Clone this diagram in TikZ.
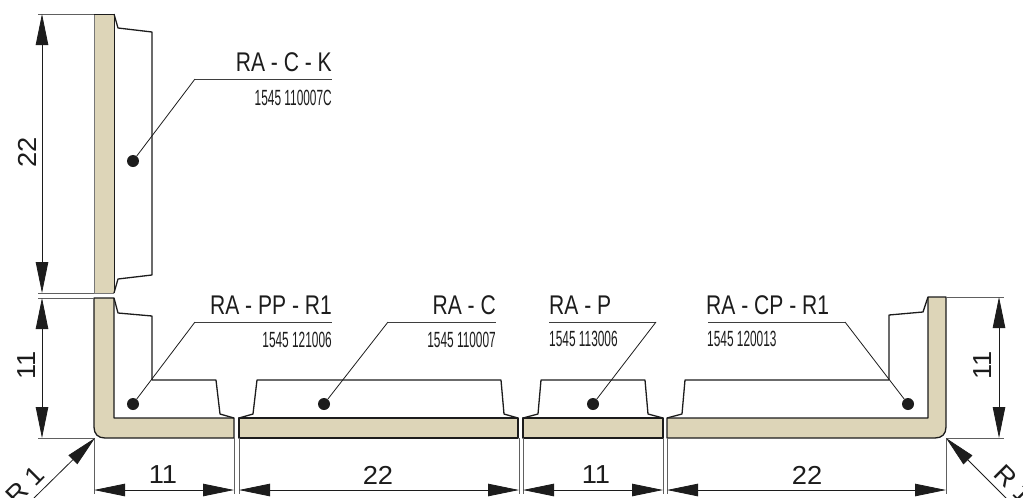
\documentclass[tikz,border=0pt]{standalone}
\usepackage{fontspec}
\usepackage{graphicx}
\setmainfont{Liberation Sans}
\usetikzlibrary{arrows.meta}
\definecolor{plate}{HTML}{DDD5B8}
\definecolor{ink}{HTML}{1C1C1C}
\newcommand{\biglabel}[1]{\fontsize{27}{27}\selectfont\scalebox{0.78}[1]{#1}}
\newcommand{\codelabel}[1]{\fontsize{22}{22}\selectfont\scalebox{0.54}[1]{#1}}
\newcommand{\dimtext}[1]{\fontsize{26}{26}\selectfont\scalebox{1.05}[1]{#1}}
\tikzset{
  x=1pt,y=-1pt,
  plateshape/.style={fill=plate,draw=ink,line width=1.3pt,line join=round},
  profile/.style={draw=ink,line width=1.3pt,line join=round},
  extline/.style={draw=ink!70,line width=0.8pt},
  dimline/.style={draw=ink,line width=0.8pt,{Triangle[length=31pt,width=12.5pt]}-{Triangle[length=31pt,width=12.5pt]}},
  radline/.style={draw=ink,line width=0.8pt,-{Triangle[length=31pt,width=12.5pt]}},
  leader/.style={draw=ink,line width=0.8pt},
  shelf/.style={draw=ink!85,line width=0.9pt},
  markdot/.style={circle,fill=ink,draw=none,inner sep=0pt,minimum size=12pt},
  big/.style={inner sep=0pt,text=ink,anchor=base east},
  bigw/.style={inner sep=0pt,text=ink,anchor=base west},
  dimlabel/.style={inner sep=0pt,text=ink,anchor=center},
}
\begin{document}
\begin{tikzpicture}
\useasboundingbox (0,0) rectangle (1023,498);
% plates
\fill[plate] (94,14) rectangle (114,293);
\draw[ink!60,line width=0.8pt] (94,14) -- (94,293) -- (114,293);
\draw[profile,line width=1pt] (94,14) -- (114,14) -- (114,293);
\draw[profile] (114,14) -- (118,28) -- (152,32) -- (152,275) -- (118,279) -- (114,293);
\draw[plateshape] (94,298) -- (114,298) -- (114,418) -- (234,418) -- (234,438) -- (105,438)
  .. controls (98,438) and (94,434) .. (94,427) -- cycle;
\draw[profile] (114,298) -- (118,313) -- (152,316) -- (152,380) -- (216,380) -- (220,414) -- (234,418);
\draw[plateshape] (239,418) rectangle (518,438);
\draw[profile] (239,418) -- (253,414) -- (257,380) -- (501,380) -- (504,414) -- (518,418);
\draw[plateshape] (523,418) rectangle (663,438);
\draw[profile] (523,418) -- (538,414) -- (541,380) -- (645,380) -- (648,414) -- (663,418);
\draw[plateshape] (667,418) -- (928,418) -- (928,297) -- (946,297) -- (946,427)
  .. controls (946,434) and (942,438) .. (935,438) -- (667,438) -- cycle;
\draw[profile] (667,418) -- (682,414) -- (685,380) -- (889,380) -- (889,315) -- (923,312) -- (928,297);
% extension lines
\draw[extline] (38,14) -- (94,14);
\draw[extline] (38,293) -- (94,293);
\draw[extline] (38,298) -- (94,298);
\draw[extline] (38,438) -- (94,438);
\draw[extline] (946,297) -- (1004,297);
\draw[extline] (946,438) -- (1004,438);
\foreach \xx in {94,234.5,239,519,523,663,667,946}
  \draw[extline] (\xx,438) -- (\xx,494);
% dimension coordinates
\coordinate (u1) at (42,14); \coordinate (u2) at (42,293);
\coordinate (u3) at (42,298); \coordinate (u4) at (42,438);
\coordinate (r1) at (999,297); \coordinate (r2) at (999,438);
\coordinate (b1) at (94,490); \coordinate (b2) at (234,490);
\coordinate (b3) at (239,490); \coordinate (b4) at (519,490);
\coordinate (b5) at (523,490); \coordinate (b6) at (663,490);
\coordinate (b7) at (667,490); \coordinate (b8) at (946,490);
\draw[dimline] (u1) -- (u2);
\draw[dimline] (u3) -- (u4);
\draw[dimline] (r1) -- (r2);
\draw[dimline] (b1) -- (b2);
\draw[dimline] (b3) -- (b4);
\draw[dimline] (b5) -- (b6);
\draw[dimline] (b7) -- (b8);
% radius arrows
\coordinate (rl0) at (34,498); \coordinate (rl1) at (95,438);
\coordinate (rr0) at (1008,500); \coordinate (rr1) at (946,438);
\draw[radline] (rl0) -- (rl1);
\draw[radline] (rr0) -- (rr1);
\node[dimlabel,rotate=45] (rad1) at (25,485) {\dimtext{R 1}};
\node[dimlabel,rotate=-45] (rad2) at (1014,484) {\dimtext{R 1}};
% dimension labels
\node[dimlabel,rotate=90] (d22v) at (27,152) {\dimtext{22}};
\node[dimlabel,rotate=90] (d11v) at (27,365) {\dimtext{11}};
\node[dimlabel,rotate=90] (d11r) at (983,365) {\dimtext{11}};
\node[dimlabel] (d11a) at (163,475) {\dimtext{11}};
\node[dimlabel] (d22a) at (378,475) {\dimtext{22}};
\node[dimlabel] (d11b) at (596,475) {\dimtext{11}};
\node[dimlabel] (d22b) at (807,475) {\dimtext{22}};
% part labels
\node[markdot] (m1) at (133,161) {};
\node[markdot] (m2) at (133,404) {};
\node[markdot] (m3) at (324,404) {};
\node[markdot] (m4) at (593,404) {};
\node[markdot] (m5) at (908,404) {};
\coordinate (k1) at (195,79); \coordinate (k1e) at (332,79);
\coordinate (k2) at (195,322); \coordinate (k2e) at (332,322);
\coordinate (k3) at (388,322); \coordinate (k3e) at (496,322);
\coordinate (k4) at (656,322); \coordinate (k4e) at (549,322);
\coordinate (k5) at (845,322); \coordinate (k5e) at (708,322);
\draw[shelf] (k1) -- (k1e); \draw[leader] (k1) -- (m1);
\draw[shelf] (k2) -- (k2e); \draw[leader] (k2) -- (m2);
\draw[shelf] (k3) -- (k3e); \draw[leader] (k3) -- (m3);
\draw[shelf] (k4) -- (k4e); \draw[leader] (k4) -- (m4);
\draw[shelf] (k5) -- (k5e); \draw[leader] (k5) -- (m5);
\node[big] (t1) at (332,71) {\biglabel{RA - C - K}};
\node[big] (c1) at (332,105) {\codelabel{1545 110007C}};
\node[big] (t2) at (332,314) {\biglabel{RA - PP - R1}};
\node[big] (c2) at (332,347) {\codelabel{1545 121006}};
\node[big] (t3) at (496,314) {\biglabel{RA - C}};
\node[big] (c3) at (496,347) {\codelabel{1545 110007}};
\node[bigw] (t4) at (549,314) {\biglabel{RA - P}};
\node[bigw] (c4) at (549,346) {\codelabel{1545 113006}};
\node[bigw] (t5) at (706,314) {\biglabel{RA - CP - R1}};
\node[bigw] (c5) at (707,346) {\codelabel{1545 120013}};
\end{tikzpicture}
\end{document}
